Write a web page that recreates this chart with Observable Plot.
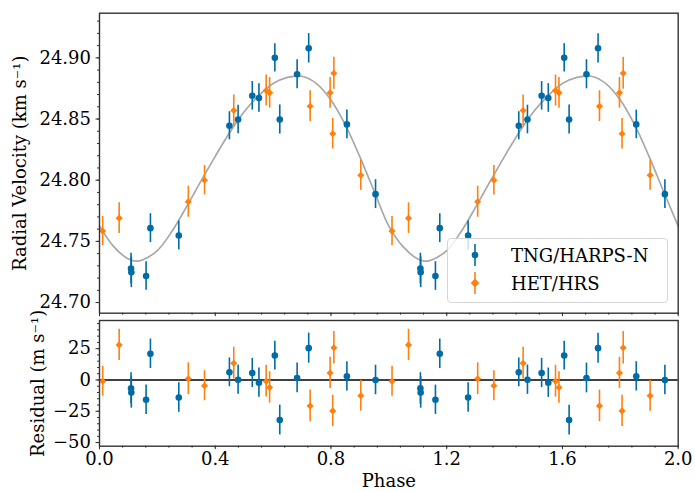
<!DOCTYPE html>
<html><head><meta charset="utf-8">
<script src="https://cdn.jsdelivr.net/npm/d3@7"></script>
<script src="https://cdn.jsdelivr.net/npm/@observablehq/plot@0.6"></script>
<style>
body{margin:0;background:#fff;}
#wrap{position:relative;width:695px;height:491px;font-family:"DejaVu Serif";background:#fff;}
#wrap svg{display:block;}
.legend{position:absolute;left:447px;top:238px;width:221px;height:65px;box-sizing:border-box;border:1px solid #d6d6d6;border-radius:4px;background:rgba(255,255,255,0.8);}
.legend .row{position:absolute;left:0;height:28px;display:flex;align-items:center;}
.legend .row span{position:absolute;left:63px;font-size:18px;white-space:nowrap;color:#000;}
.legend svg{position:absolute;left:14px;top:0;}
</style></head><body><div id="wrap"></div>
<script>
// TNG/HARPS-N (blue)
const harpsPhase = [0.109, 0.110, 0.161, 0.176, 0.274, 0.449, 0.479, 0.528, 0.551, 0.606, 0.623, 0.683, 0.723, 0.855, 0.954];
const harpsRV    = [24.7278, 24.7247, 24.7217, 24.7608, 24.7548, 24.8445, 24.8496, 24.8690, 24.8672, 24.9000, 24.8496, 24.8866, 24.9078, 24.8456, 24.7886];
const harpsRes   = [-6.7, -10.0, -15.8, 20.9, -14.0, 6.1, 0.2, 5.6, -2.2, 19.5, -32.0, 1.6, 25.4, 2.9, 0.0];
const harpsErr   = [12.5, 12.5, 11.7, 11.8, 11.8, 11.5, 11.7, 11.7, 11.7, 11.5, 11.9, 11.9, 12.0, 11.7, 11.8]; // m/s
// HET/HRS (orange)
const hetPhase = [0.011, 0.068, 0.307, 0.363, 0.464, 0.576, 0.588, 0.728, 0.797, 0.806, 0.810, 0.903];
const hetRV    = [24.7584, 24.7690, 24.7824, 24.8000, 24.8570, 24.8733, 24.8714, 24.8605, 24.8714, 24.8380, 24.8874, 24.8040];
const hetRes   = [-1.0, 28.0, 1.0, -4.6, 13.4, -1.0, -6.0, -20.7, 5.6, -24.7, 25.7, -12.6];
const hetErr   = [12.0, 12.5, 12.7, 12.0, 12.7, 12.7, 12.5, 12.6, 12.5, 12.5, 13.0, 12.3]; // m/s
// Orbit model
const modelPhase = [0, 0.05, 0.1, 0.125, 0.15, 0.2, 0.25, 0.3, 0.35, 0.4, 0.45, 0.5, 0.55, 0.6, 0.65, 0.7, 0.75, 0.8, 0.85, 0.9, 0.95];
const modelRV    = [24.7625, 24.7455, 24.7355, 24.7338, 24.7350, 24.7425, 24.7580, 24.7780, 24.7990, 24.8195, 24.8390, 24.8560, 24.8690, 24.8790, 24.8840, 24.8850, 24.8790, 24.8655, 24.8450, 24.8190, 24.7905];
// Ticks
const xTicks = [0.0, 0.4, 0.8, 1.2, 1.6, 2.0];
const rvTicks = [24.70, 24.75, 24.80, 24.85, 24.90];
const resTicks = [-50, -25, 0, 25];
const seriesNames = ["TNG/HARPS-N", "HET/HRS"];

const BLUE = "#006BA4", ORANGE = "#FF800E", GREY = "#a8a8a8", SPINE = "#333";

function rows(ph, rv, res, err) {
  const out = [];
  for (const shift of [0, 1]) ph.forEach((p, i) => out.push({phase: p + shift, rv: rv[i], res: res[i], err: err[i]}));
  return out;
}
const harps = rows(harpsPhase, harpsRV, harpsRes, harpsErr);
const het = rows(hetPhase, hetRV, hetRes, hetErr);
const model = [];
for (const shift of [0, 1]) modelPhase.forEach((p, i) => model.push({phase: p + shift, rv: modelRV[i]}));
model.push({phase: 2, rv: modelRV[0]});

const minorX = d3.range(0, 2.0001, 0.08).map(v => +v.toFixed(2));
const minorRV = d3.range(24.70, 24.935, 0.01).map(v => +v.toFixed(2));
const minorRes = d3.range(-50, 46, 5);
const style = {fontFamily: "DejaVu Serif", fontSize: "18px", color: "#000", background: "white", overflow: "visible"};
const blank = () => "";

const topPlot = Plot.plot({
  width: 695, height: 316,
  marginLeft: 99, marginRight: 17.3, marginTop: 12.7, marginBottom: 3.3,
  style,
  x: {domain: [0, 2]},
  y: {domain: [24.6913, 24.9365]},
  marks: [
    Plot.line(model, {x: "phase", y: "rv", stroke: GREY, strokeWidth: 1.7, curve: "catmull-rom"}),
    Plot.ruleX(harps, {x: "phase", y1: d => d.rv - d.err / 1000, y2: d => d.rv + d.err / 1000, stroke: BLUE, strokeWidth: 1.6}),
    Plot.dot(harps, {x: "phase", y: "rv", r: 3.3, fill: BLUE, stroke: null}),
    Plot.ruleX(het, {x: "phase", y1: d => d.rv - d.err / 1000, y2: d => d.rv + d.err / 1000, stroke: ORANGE, strokeWidth: 1.6}),
    Plot.dot(het, {x: "phase", y: "rv", r: 3.2, symbol: "diamond2", fill: ORANGE, stroke: null}),
    Plot.frame({stroke: SPINE, strokeWidth: 1.4}),
    Plot.axisY({ticks: minorRV, tickSize: 2, tickFormat: blank, label: null, stroke: SPINE}),
    Plot.axisY({ticks: rvTicks, tickSize: 3.5, tickPadding: 5, tickFormat: d3.format(".2f"), stroke: SPINE,
      label: "Radial Velocity (km s⁻¹)", labelAnchor: "center", labelOffset: 86, labelArrow: "none"}),
    Plot.axisX({ticks: minorX, tickSize: 2, tickFormat: blank, label: null, stroke: SPINE}),
    Plot.axisX({ticks: xTicks, tickSize: 3.5, tickFormat: blank, label: null, stroke: SPINE})
  ]
});

const botPlot = Plot.plot({
  width: 695, height: 175,
  marginLeft: 99, marginRight: 17.3, marginTop: 4, marginBottom: 45.3,
  style,
  x: {domain: [0, 2]},
  y: {domain: [-52.9, 47.5]},
  marks: [
    Plot.ruleY([0], {stroke: "#000", strokeWidth: 1.6}),
    Plot.ruleX(harps, {x: "phase", y1: d => d.res - d.err, y2: d => d.res + d.err, stroke: BLUE, strokeWidth: 1.6}),
    Plot.dot(harps, {x: "phase", y: "res", r: 3.3, fill: BLUE, stroke: null}),
    Plot.ruleX(het, {x: "phase", y1: d => d.res - d.err, y2: d => d.res + d.err, stroke: ORANGE, strokeWidth: 1.6}),
    Plot.dot(het, {x: "phase", y: "res", r: 3.2, symbol: "diamond2", fill: ORANGE, stroke: null}),
    Plot.frame({stroke: SPINE, strokeWidth: 1.4}),
    Plot.axisY({ticks: minorRes, tickSize: 2, tickFormat: blank, label: null, stroke: SPINE}),
    Plot.axisY({ticks: resTicks, tickSize: 3.5, tickPadding: 5, tickFormat: d3.format("d"), stroke: SPINE,
      label: "Residual (m s⁻¹)", labelAnchor: "center", labelOffset: 68, labelArrow: "none"}),
    Plot.axisX({ticks: minorX, tickSize: 2, tickFormat: blank, label: null, stroke: SPINE}),
    Plot.axisX({ticks: xTicks, tickSize: 3.5, tickPadding: 2.5, tickFormat: d3.format(".1f"), stroke: SPINE,
      label: "Phase", labelAnchor: "center", labelOffset: 41, labelArrow: "none"})
  ]
});

const wrap = document.getElementById("wrap");
wrap.appendChild(topPlot);
wrap.appendChild(botPlot);

// Legend
const legend = document.createElement("div");
legend.className = "legend";
const colors = [BLUE, ORANGE];
seriesNames.forEach((name, i) => {
  const row = document.createElement("div");
  row.className = "row";
  row.style.top = (i === 0 ? 2 : 30) + "px";
  row.style.width = "219px";
  const marker = i === 0
    ? `<circle cx="13" cy="14" r="3.3" fill="${BLUE}"/>`
    : `<path d="M13 9.6 L17.3 14 L13 18.4 L8.7 14 Z" fill="${ORANGE}"/>`;
  row.innerHTML = `<svg width="26" height="28"><line x1="13" x2="13" y1="3" y2="25" stroke="${colors[i]}" stroke-width="1.6"/>${marker}</svg><span>${name}</span>`;
  legend.appendChild(row);
});
wrap.appendChild(legend);
</script>
</body></html>
